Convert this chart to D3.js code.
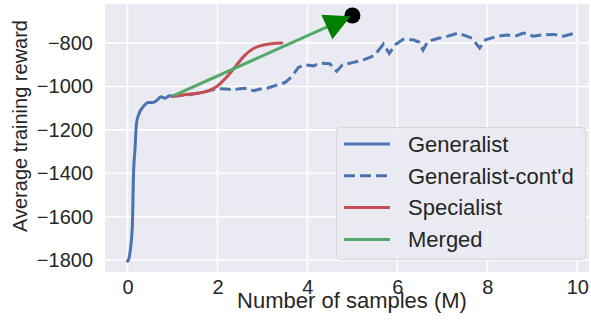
<!DOCTYPE html>
<html>
<head>
<meta charset="utf-8">
<script src="https://cdn.jsdelivr.net/npm/d3@7"></script>
<style>
  html, body { margin: 0; padding: 0; background: #ffffff; }
  svg { display: block; font-family: "Liberation Sans", Arial, sans-serif; }
</style>
</head>
<body>
<svg id="chart" width="591" height="326"></svg>
<script>
// Generalist training run (first 1M samples)
const generalistX = [0, 0.02, 0.07, 0.11, 0.13, 0.17, 0.2, 0.26, 0.35, 0.46, 0.57, 0.68, 0.74, 0.83, 0.94, 1.0];
const generalistY = [-1805, -1800, -1740, -1631, -1431, -1278, -1170, -1123, -1093, -1074, -1074, -1059, -1047, -1054, -1043, -1045];

// Generalist continued training (1M .. 10M samples)
const contX = [1.0, 1.3, 1.6, 1.8, 2.0, 2.2, 2.35, 2.5, 2.65, 2.8, 2.95, 3.1, 3.3, 3.5, 3.65, 3.8, 3.95, 4.13, 4.28, 4.5, 4.65, 4.78, 5.0, 5.15, 5.32, 5.5, 5.69, 5.82, 5.95, 6.13, 6.35, 6.48, 6.57, 6.68, 6.94, 7.12, 7.35, 7.54, 7.66, 7.83, 7.96, 8.2, 8.43, 8.65, 8.8, 9.02, 9.24, 9.46, 9.69, 9.9, 10.0];
const contY = [-1045, -1040, -1030, -1020, -1010, -1012, -1016, -1010, -1008, -1020, -1012, -1008, -995, -982, -955, -912, -900, -905, -893, -895, -930, -900, -890, -883, -872, -855, -805, -848, -808, -783, -785, -795, -832, -792, -777, -768, -754, -768, -778, -823, -785, -770, -763, -766, -754, -768, -762, -760, -768, -757, -762];

// Specialist fine-tuning run
const specialistX = [1.0, 1.2, 1.4, 1.6, 1.8, 2.0, 2.2, 2.4, 2.6, 2.8, 3.0, 3.2, 3.43];
const specialistY = [-1045, -1040, -1035, -1030, -1020, -998, -958, -908, -858, -825, -810, -803, -800];

// Merged policy: start point and end point (arrow)
const mergedX = [1.0, 5.0];
const mergedY = [-1045, -673];

const xTicks = [0, 2, 4, 6, 8, 10];
const yTicks = [-800, -1000, -1200, -1400, -1600, -1800];

const legendLabels = ["Generalist", "Generalist-cont'd", "Specialist", "Merged"];

const colBlue = "#4C72B0", colRed = "#C44E52", colGreen = "#55A868";
const textCol = "#262626";

const svg = d3.select("#chart");
const plot = { left: 105, right: 589, top: 4, bottom: 272 };

const x = d3.scaleLinear().domain([-0.5, 10.26]).range([plot.left, plot.right]);
const y = d3.scaleLinear().domain([-1855, -620]).range([plot.bottom, plot.top]);

// axes background
svg.append("rect")
  .attr("x", plot.left).attr("y", plot.top)
  .attr("width", plot.right - plot.left).attr("height", plot.bottom - plot.top)
  .attr("fill", "#EAEAF2");

// grid lines
const grid = svg.append("g");
grid.selectAll(".gx").data(xTicks).join("line")
  .attr("x1", d => x(d)).attr("x2", d => x(d))
  .attr("y1", plot.top).attr("y2", plot.bottom)
  .attr("stroke", "#ffffff").attr("stroke-width", 1.6);
grid.selectAll(".gy").data(yTicks).join("line")
  .attr("x1", plot.left).attr("x2", plot.right)
  .attr("y1", d => y(d)).attr("y2", d => y(d))
  .attr("stroke", "#ffffff").attr("stroke-width", 1.6);

// axes (tick labels only)
const xAxis = svg.append("g")
  .attr("transform", `translate(0,${plot.bottom})`)
  .call(d3.axisBottom(x).tickValues(xTicks).tickSize(0).tickPadding(8).tickFormat(d3.format("d")));
xAxis.select(".domain").remove();
xAxis.selectAll("text").attr("font-size", 20).attr("fill", textCol)
  .attr("font-family", "Liberation Sans, Arial, sans-serif");

const yAxis = svg.append("g")
  .attr("transform", `translate(${plot.left},0)`)
  .call(d3.axisLeft(y).tickValues(yTicks).tickSize(0).tickPadding(12)
    .tickFormat(d => d < 0 ? "\u2212" + Math.abs(d) : String(d)));
yAxis.select(".domain").remove();
yAxis.selectAll("text").attr("font-size", 20).attr("fill", textCol)
  .attr("font-family", "Liberation Sans, Arial, sans-serif");

// axis titles
svg.append("text")
  .attr("x", (plot.left + plot.right) / 2 + 5).attr("y", 308)
  .attr("text-anchor", "middle").attr("font-size", 22).attr("fill", textCol)
  .text("Number of samples (M)");
svg.append("text")
  .attr("transform", `translate(27,126) rotate(-90)`)
  .attr("text-anchor", "middle").attr("font-size", 20).attr("fill", textCol)
  .text("Average training reward");

const line = d3.line().x(d => x(d[0])).y(d => y(d[1])).curve(d3.curveMonotoneX);
const zip = (a, b) => a.map((v, i) => [v, b[i]]);

svg.append("clipPath").attr("id", "clip").append("rect")
  .attr("x", plot.left).attr("y", plot.top)
  .attr("width", plot.right - plot.left).attr("height", plot.bottom - plot.top);
const g = svg.append("g").attr("clip-path", "url(#clip)");

g.append("path").datum(zip(generalistX, generalistY))
  .attr("d", line).attr("fill", "none").attr("stroke", colBlue)
  .attr("stroke-width", 3).attr("stroke-linecap", "round");

g.append("path").datum(zip(contX, contY))
  .attr("d", d3.line().x(d => x(d[0])).y(d => y(d[1])))
  .attr("fill", "none").attr("stroke", colBlue)
  .attr("stroke-width", 3).attr("stroke-dasharray", "11,5");

g.append("path").datum(zip(specialistX, specialistY))
  .attr("d", line).attr("fill", "none").attr("stroke", colRed)
  .attr("stroke-width", 3).attr("stroke-linecap", "round");

// merged arrow
const p0 = [x(mergedX[0]), y(mergedY[0])];
const p1 = [x(mergedX[1]), y(mergedY[1])];
const ang = Math.atan2(p1[1] - p0[1], p1[0] - p0[0]);
const headLen = 26, headW = 27;
const tip = [p1[0] - 2 * Math.cos(ang), p1[1] - 2 * Math.sin(ang)];
const base = [tip[0] - headLen * Math.cos(ang), tip[1] - headLen * Math.sin(ang)];

g.append("line")
  .attr("x1", p0[0]).attr("y1", p0[1]).attr("x2", base[0] + 4 * Math.cos(ang)).attr("y2", base[1] + 4 * Math.sin(ang))
  .attr("stroke", colGreen).attr("stroke-width", 3);

g.append("circle").attr("cx", p1[0]).attr("cy", p1[1]).attr("r", 8).attr("fill", "#000000");

const nx = -Math.sin(ang), ny = Math.cos(ang);
g.append("path")
  .attr("d", `M${tip[0]},${tip[1]} L${base[0] + nx * headW / 2},${base[1] + ny * headW / 2} L${base[0] - nx * headW / 2},${base[1] - ny * headW / 2} Z`)
  .attr("fill", "#008000");

// legend
const leg = svg.append("g");
leg.append("rect")
  .attr("x", 336.5).attr("y", 127.5).attr("width", 249).attr("height", 132).attr("rx", 4)
  .attr("fill", "#EAEAF2").attr("fill-opacity", 0.8).attr("stroke", "#d6d6dc").attr("stroke-width", 1);
const legStyles = [
  { c: colBlue, dash: null },
  { c: colBlue, dash: "11,5" },
  { c: colRed, dash: null },
  { c: colGreen, dash: null }
];
legendLabels.forEach((lab, i) => {
  const ry = 144 + i * 31.8;
  leg.append("line").attr("x1", 344).attr("x2", 390).attr("y1", ry).attr("y2", ry)
    .attr("stroke", legStyles[i].c).attr("stroke-width", 3)
    .attr("stroke-dasharray", legStyles[i].dash);
  leg.append("text").attr("x", 408).attr("y", ry + 7.8)
    .attr("font-size", 22).attr("fill", textCol).text(lab);
});
</script>
</body>
</html>
